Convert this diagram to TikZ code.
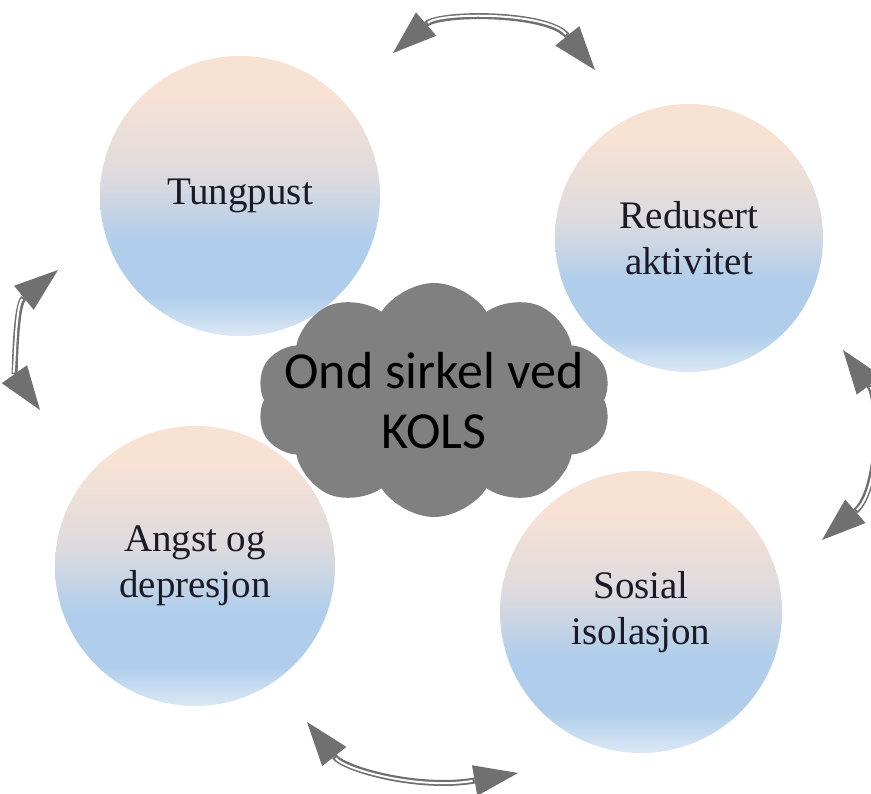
\documentclass[tikz,border=0pt]{standalone}
\usepackage{fontspec}
\setmainfont{Liberation Serif}
\newfontfamily\cloudfont{Carlito}
\usetikzlibrary{arrows.meta,shapes.symbols}
\definecolor{ctop}{HTML}{F7E2D4}
\definecolor{cmid}{HTML}{DCDADF}
\definecolor{cblue}{HTML}{B0CEEB}
\definecolor{cbot}{HTML}{DCE8F5}
\definecolor{cloudgray}{HTML}{808080}
\definecolor{arrowgray}{HTML}{707070}
\definecolor{txtcol}{HTML}{1A1A26}
\pgfdeclareverticalshading{circsh}{100bp}{color(0bp)=(cbot); color(25bp)=(cbot); color(32bp)=(cblue); color(42bp)=(cblue); color(53bp)=(cmid); color(68bp)=(ctop); color(75bp)=(ctop); color(100bp)=(ctop)}
\tikzset{
  bubble/.style={circle, shading=circsh, draw=none, inner sep=0pt, align=center,
    text=txtcol, font=\fontsize{39}{46}\selectfont},
  cyclearrow/.style={draw=arrowgray, line width=6pt,
    {Triangle[length=44pt,width=31pt,line width=0pt]}-{Triangle[length=44pt,width=31pt,line width=0pt]}},
  cyclegap/.style={draw=white, line width=2pt, shorten <=46pt, shorten >=46pt},
}
\begin{document}
\begin{tikzpicture}[x=1pt,y=-1pt]
\useasboundingbox (0,0) rectangle (871,794);
\fill[white] (0,0) rectangle (871,794);
% circles
\node[bubble, minimum size=280pt] (tung) at (240,196) {Tungpust};
\node[bubble, minimum size=268pt] (red) at (689,238) {Redusert\\aktivitet};
\node[bubble, minimum size=280pt] (angst) at (195,566) {Angst og\\depresjon};
\node[bubble, minimum size=282pt] (sos) at (641,612) {Sosial\\isolasjon};
% cloud
\node[cloud, cloud puffs=10, cloud puff arc=115, cloud ignores aspect,
  minimum width=355pt, minimum height=234pt, fill=cloudgray, draw=none,
  inner sep=0pt] (kols) at (434,400) {};
\node[align=center, text=black, inner sep=0pt,
  font=\cloudfont\fontsize{52}{60}\selectfont] (kolstext) at (434,401) {Ond sirkel ved\\KOLS};
% arrows
\coordinate (ta) at (393,53);
\coordinate (tb) at (595,70);
\coordinate (la) at (58,270);
\coordinate (lb) at (40,410);
\coordinate (ra) at (843,350);
\coordinate (rb) at (822,540);
\coordinate (ba) at (307,722);
\coordinate (bb) at (518,773);
\draw[cyclearrow] (ta) .. controls (440,12) and (548,12) .. (tb);
\draw[cyclegap] (ta) .. controls (440,12) and (548,12) .. (tb);
\draw[cyclearrow] (la) .. controls (15,305) and (15,375) .. (lb);
\draw[cyclegap] (la) .. controls (15,305) and (15,375) .. (lb);
\draw[cyclearrow] (ra) .. controls (880,400) and (880,490) .. (rb);
\draw[cyclegap] (ra) .. controls (880,400) and (880,490) .. (rb);
\draw[cyclearrow] (ba) .. controls (345,770) and (420,790) .. (bb);
\draw[cyclegap] (ba) .. controls (345,770) and (420,790) .. (bb);
\end{tikzpicture}
\end{document}
